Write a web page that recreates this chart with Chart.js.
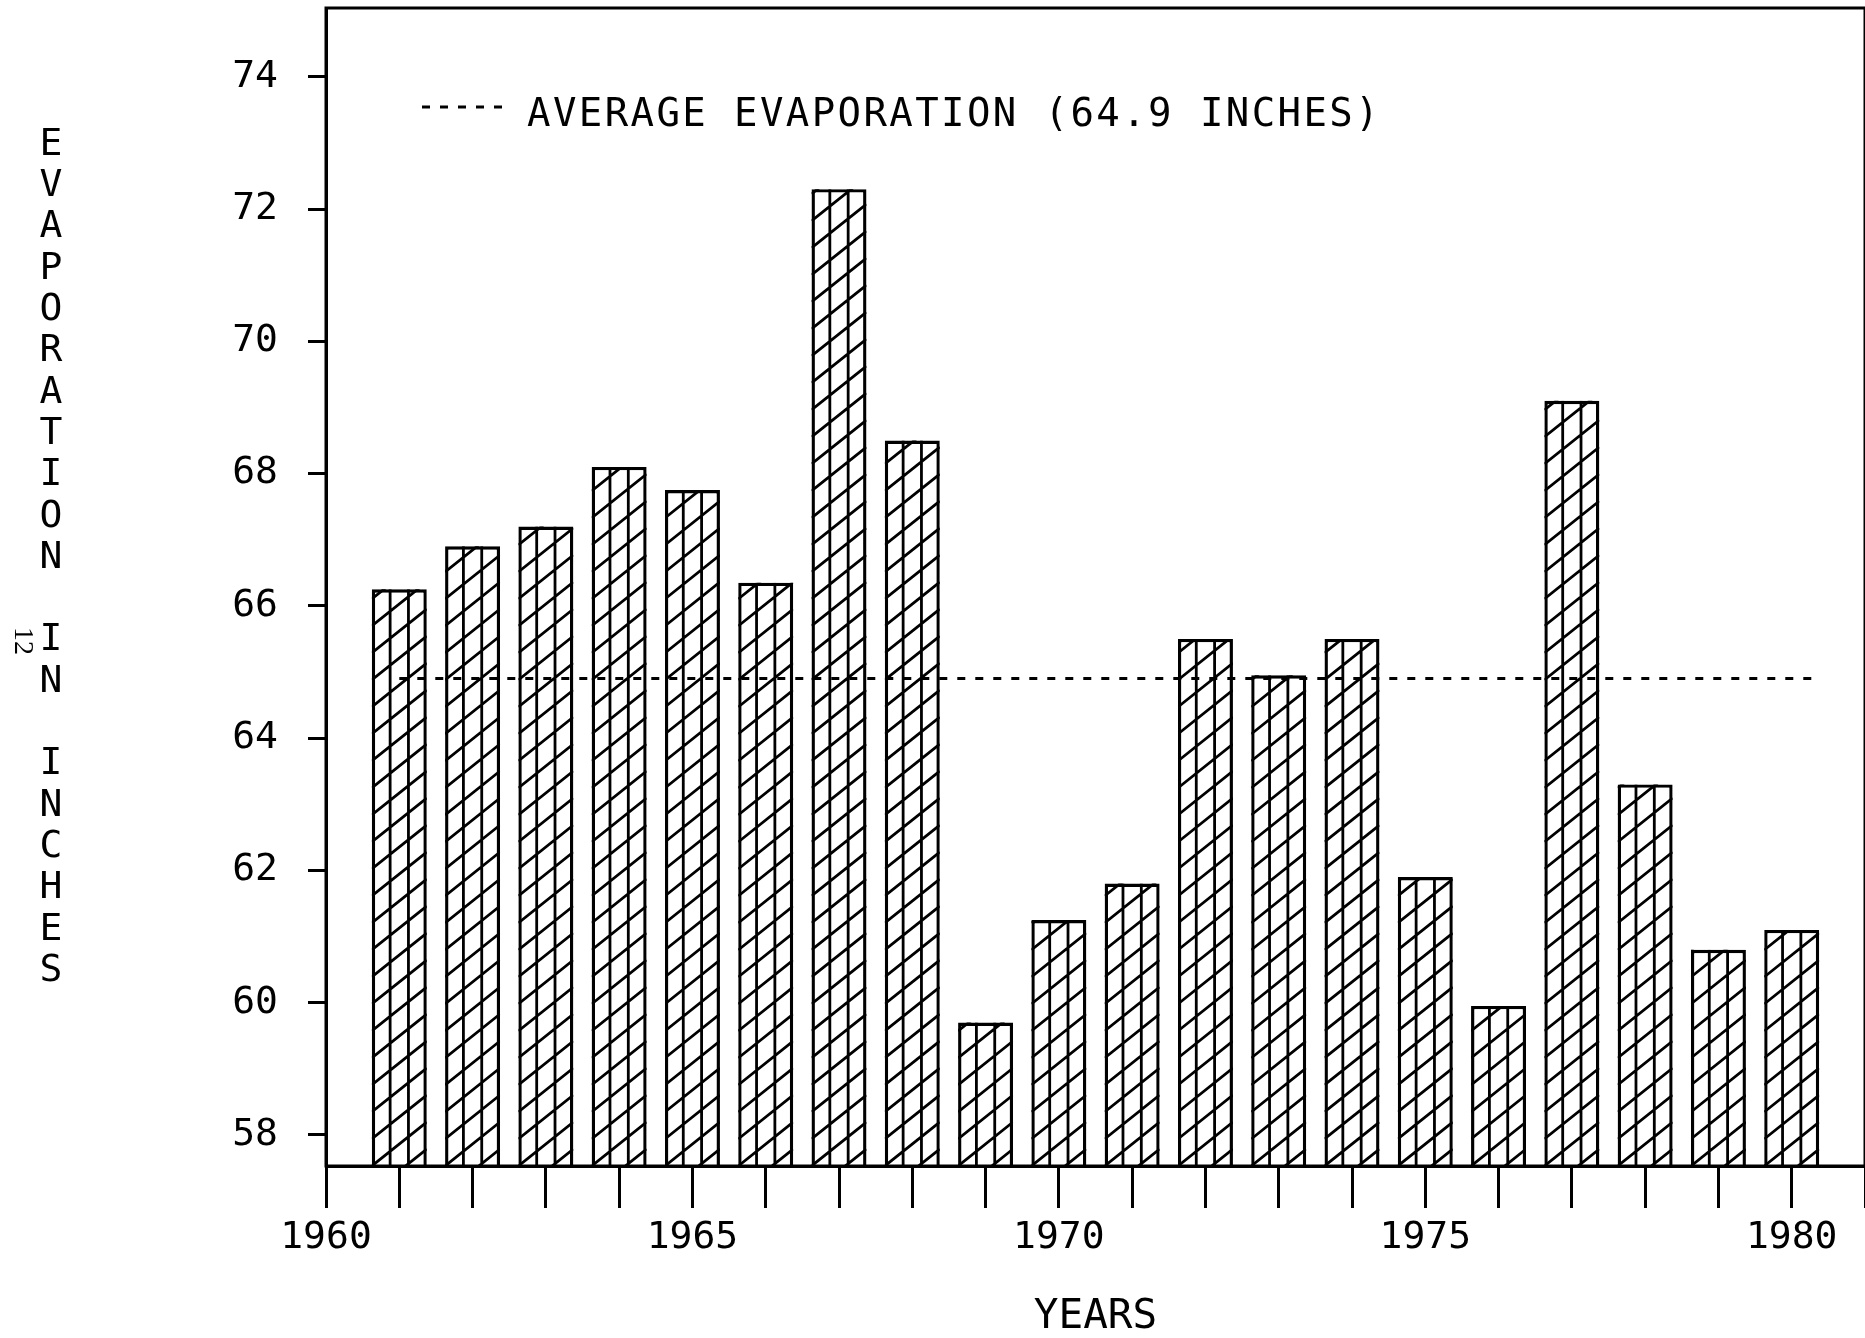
<!DOCTYPE html>
<html>
<head>
<meta charset="utf-8">
<title>Evaporation in inches, 1961-1980</title>
<script src="https://cdn.jsdelivr.net/npm/chart.js@4.4.1/dist/chart.umd.min.js"></script>
<style>
  html, body { margin: 0; padding: 0; background: #fff; }
  #chart-container { width: 1865px; height: 1338px; }
</style>
</head>
<body>
<div id="chart-container"><canvas id="evaporation" width="1865" height="1338"></canvas></div>
<script>
const years = [1961, 1962, 1963, 1964, 1965, 1966, 1967, 1968, 1969, 1970,
  1971, 1972, 1973, 1974, 1975, 1976, 1977, 1978, 1979, 1980];
const evaporation = [66.25, 66.9, 67.2, 68.1, 67.75, 66.35, 72.3, 68.5, 59.7, 61.25,
  61.8, 65.5, 64.95, 65.5, 61.9, 59.95, 69.1, 63.3, 60.8, 61.1];
const averageEvaporation = 64.9;
const averageSpan = [1961, 1980.4];
const yTickValues = [58, 60, 62, 64, 66, 68, 70, 72, 74];
const xTickYears = [1960, 1961, 1962, 1963, 1964, 1965, 1966, 1967, 1968, 1969, 1970,
  1971, 1972, 1973, 1974, 1975, 1976, 1977, 1978, 1979, 1980, 1981];
const xLabelYears = [1960, 1965, 1970, 1975, 1980];
const legendText = "AVERAGE EVAPORATION (64.9 INCHES)";
const yAxisTitle = "EVAPORATION IN INCHES";
const yMin = 57.53;
const yMax = 75.04;

const FONT = "'DejaVu Sans Mono', 'Liberation Mono', monospace";

// diagonal hatching plus two inner verticals, clipped to each bar
const hatchPlugin = {
  id: "hatch",
  afterDatasetDraw(chart, args) {
    if (args.meta.type !== "bar") return;
    const ctx = chart.ctx;
    const gap = 27;
    const slope = 0.8;
    args.meta.data.forEach((bar) => {
      const props = bar.getProps(["x", "y", "base", "width"], true);
      const { x, y, width } = props;
      const base = Math.min(props.base, chart.chartArea.bottom);
      const left = x - width / 2;
      const right = x + width / 2;
      ctx.save();
      ctx.beginPath();
      ctx.rect(left, y, width, base - y);
      ctx.clip();
      ctx.strokeStyle = "#000";
      ctx.lineWidth = 2.8;
      ctx.beginPath();
      const kMin = -Math.ceil((width * slope) / gap);
      const kMax = Math.ceil((base - y) / gap);
      for (let k = kMin; k <= kMax; k++) {
        const y0 = base - k * gap;
        ctx.moveTo(left, y0);
        ctx.lineTo(right, y0 - width * slope);
      }
      [1 / 3, 2 / 3].forEach((f) => {
        ctx.moveTo(left + width * f, y);
        ctx.lineTo(left + width * f, base);
      });
      ctx.stroke();
      ctx.restore();
    });
  },
};

const decorPlugin = {
  id: "decor",
  afterDraw(chart) {
    const { ctx, chartArea } = chart;
    ctx.save();
    // frame
    ctx.strokeStyle = "#000";
    ctx.lineWidth = 3;
    ctx.strokeRect(chartArea.left, chartArea.top,
      chartArea.right - chartArea.left, chartArea.bottom - chartArea.top);

    // legend
    ctx.lineWidth = 3.2;
    ctx.setLineDash([8, 10]);
    ctx.beginPath();
    ctx.moveTo(422, 107);
    ctx.lineTo(505, 107);
    ctx.stroke();
    ctx.setLineDash([]);
    ctx.fillStyle = "#000";
    ctx.font = `39px ${FONT}`;
    ctx.textAlign = "left";
    ctx.textBaseline = "middle";
    ctx.letterSpacing = "2.4px";
    ctx.fillText(legendText, 527, 116);
    ctx.letterSpacing = "0px";

    // stacked y title
    ctx.font = `38px ${FONT}`;
    ctx.textAlign = "center";
    [...yAxisTitle].forEach((ch, i) => {
      if (ch !== " ") ctx.fillText(ch, 51, 145 + i * 41.3);
    });

    // page number
    ctx.save();
    ctx.translate(22, 641);
    ctx.rotate(Math.PI / 2);
    ctx.font = "28px 'Liberation Serif', serif";
    ctx.fillText("12", 0, 0);
    ctx.restore();
    ctx.restore();
  },
};

const tickFont = { family: FONT, size: 38 };

new Chart("evaporation", {
  type: "bar",
  plugins: [hatchPlugin, decorPlugin],
  data: {
    datasets: [
      {
        type: "line",
        data: averageSpan.map((yr) => ({ x: yr, y: averageEvaporation })),
        borderColor: "#000",
        borderWidth: 3,
        borderDash: [8, 10],
        pointRadius: 0,
        fill: false,
        order: 0,
      },
      {
        type: "bar",
        data: years.map((yr, i) => ({ x: yr, y: evaporation[i] })),
        base: yMin,
        backgroundColor: "#fff",
        borderColor: "#000",
        borderWidth: 3.4,
        barPercentage: 0.75,
        categoryPercentage: 1,
        order: 1,
      },
    ],
  },
  options: {
    responsive: false,
    animation: false,
    events: [],
    layout: { padding: { top: 8, right: 0, left: 0, bottom: 0 } },
    plugins: {
      legend: { display: false },
      tooltip: { enabled: false },
    },
    scales: {
      x: {
        type: "linear",
        min: 1960,
        max: 1981,
        offset: false,
        afterBuildTicks: (scale) => {
          scale.ticks = xTickYears.map((v) => ({ value: v }));
        },
        afterFit: (scale) => {
          scale.height = 172;
          scale.paddingLeft = 0;
          scale.paddingRight = 0;
        },
        grid: {
          drawOnChartArea: false,
          offset: false,
          tickLength: 42,
          tickWidth: 3,
          tickColor: "#000",
        },
        border: { display: true, color: "#000", width: 3 },
        ticks: {
          autoSkip: false,
          maxRotation: 0,
          padding: 7,
          color: "#000",
          font: tickFont,
          callback: (v) => (xLabelYears.includes(v) ? String(v) : ""),
        },
        title: {
          display: true,
          text: "YEARS",
          color: "#000",
          font: { family: FONT, size: 41, lineHeight: 1 },
          padding: { top: 0, bottom: 0 },
        },
      },
      y: {
        min: yMin,
        max: yMax,
        afterBuildTicks: (scale) => {
          scale.ticks = yTickValues.map((v) => ({ value: v }));
        },
        afterFit: (scale) => {
          scale.width = 326;
          scale.paddingTop = 0;
          scale.paddingBottom = 0;
        },
        grid: {
          drawOnChartArea: false,
          tickLength: 18,
          tickWidth: 3,
          tickColor: "#000",
        },
        border: { display: true, color: "#000", width: 3 },
        ticks: {
          padding: 30,
          color: "#000",
          font: tickFont,
        },
      },
    },
  },
});
</script>
</body>
</html>
